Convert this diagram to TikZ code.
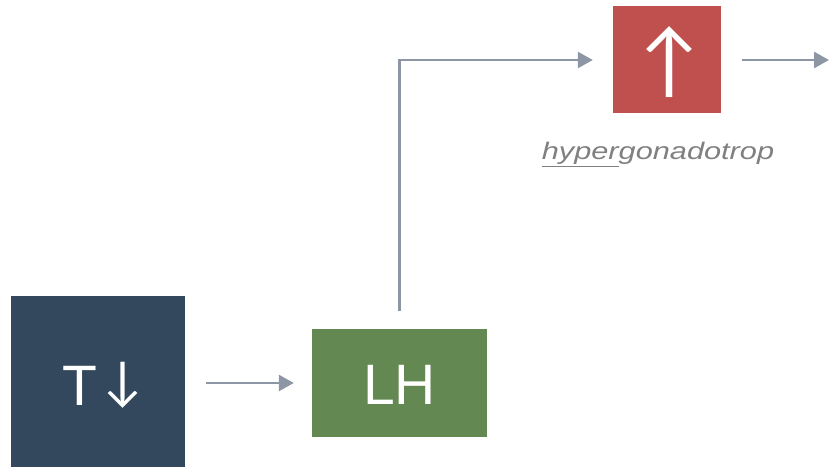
\documentclass[tikz,border=0pt]{standalone}
\usepackage{fontspec}
\usepackage{graphicx}
\setmainfont{Liberation Sans}
\newfontfamily\arrowfont{Lato}
\usetikzlibrary{arrows.meta}

\definecolor{navy}{RGB}{52,72,93}
\definecolor{leaf}{RGB}{100,136,82}
\definecolor{brick}{RGB}{192,80,77}
\definecolor{steel}{RGB}{140,150,164}
\definecolor{note}{RGB}{128,128,128}

\tikzset{
  block/.style={draw=none, inner sep=0pt, text=white, text depth=0pt,
                font=\fontsize{57}{57}\selectfont},
  flow/.style={draw=steel, line width=2.6pt, -{Triangle[length=15pt,width=16pt]}},
}

\begin{document}
\begin{tikzpicture}[x=1pt, y=-1pt]
  \useasboundingbox (0,0) rectangle (830,468);

  % boxes
  \node[block, fill=navy, minimum width=174pt, minimum height=171pt, text height=47pt]
    (t) at (98,381.5)
    {\kern9pt T\kern6.5pt\raisebox{5.5pt}{\arrowfont\fontsize{52}{52}\selectfont ↓}};
  \node[block, fill=leaf, minimum width=175pt, minimum height=108pt, text height=42pt]
    (lh) at (399.5,383) {LH};
  \node[block, fill=brick, minimum width=108pt, minimum height=107pt, text height=58pt,
        font=\arrowfont\fontsize{80}{80}\selectfont]
    (up) at (667,60) {\kern5pt↑};

  % caption under the red box
  \node[text=note, inner sep=0pt, anchor=base] (cap) at (658,160)
    {\fontsize{24}{24}\selectfont\itshape\scalebox{1.28}[1]{\underline{hyper}gonadotrop}};

  % connectors
  \coordinate (out) at (829,60);
  \draw[flow, shorten <=21pt, shorten >=18pt] (t.east |- lh.west) -- (lh.west);
  \draw[flow, shorten <=18pt, shorten >=20pt] (lh.north) |- (up.west);
  \draw[flow, shorten <=21pt] (up.east) -- (out);
\end{tikzpicture}
\end{document}
